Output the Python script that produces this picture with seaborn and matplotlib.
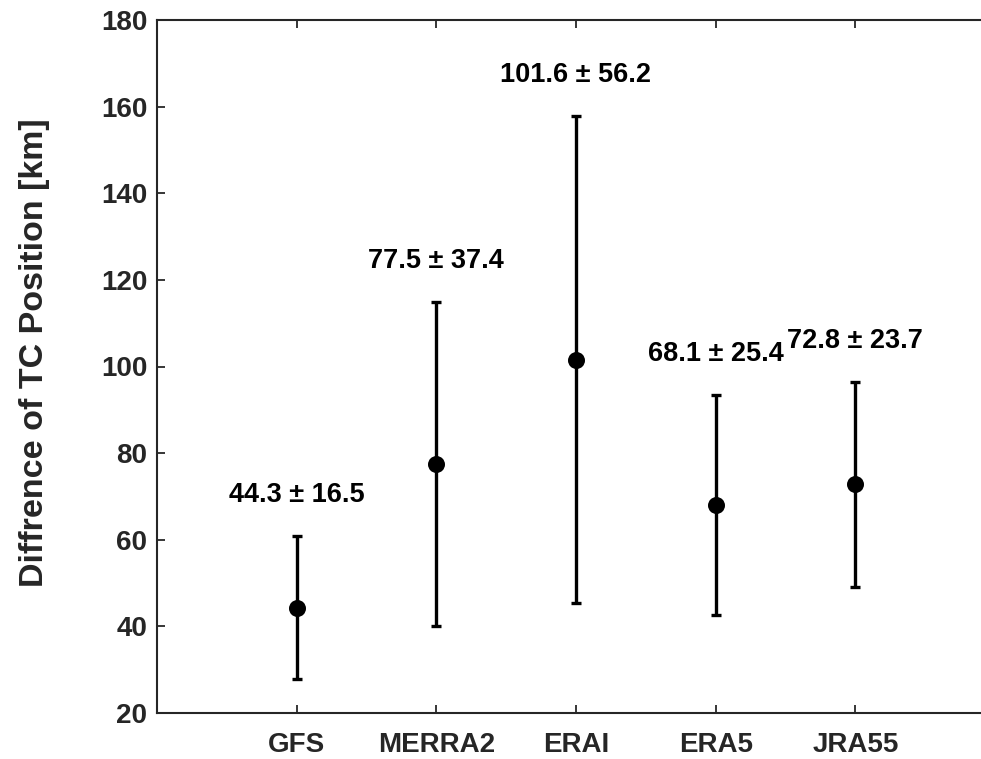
import matplotlib
matplotlib.use("Agg")
import matplotlib.pyplot as plt
import seaborn as sns
import pandas as pd
import numpy as np

categories = ["GFS", "MERRA2", "ERAI", "ERA5", "JRA55"]
means = [44.3, 77.5, 101.6, 68.1, 72.8]
stds = [16.5, 37.4, 56.2, 25.4, 23.7]
yticks = [20, 40, 60, 80, 100, 120, 140, 160, 180]

sns.set_theme(style="ticks")
plt.rcParams["font.family"] = ["Liberation Sans", "DejaVu Sans"]
plt.rcParams["font.weight"] = "bold"

df = pd.DataFrame({"cat": categories, "mean": means, "std": stds})
df["pos"] = np.arange(1, len(categories) + 1)

fig = plt.figure(figsize=(9.81, 7.59), dpi=100)
ax = fig.add_axes([157 / 981, 1 - 713 / 759, 838 / 981, 693 / 759])

ax.errorbar(df["pos"], df["mean"], yerr=df["std"], fmt="none", ecolor="black",
            elinewidth=2.4, capsize=3.8, capthick=2.4, zorder=2)
sns.scatterplot(data=df, x="pos", y="mean", color="black", s=150, edgecolor="black",
                linewidth=0, ax=ax, zorder=3, legend=False)

for p, m, s in zip(df["pos"], df["mean"], df["std"]):
    ax.text(p, m + s + 9.5, f"{m:.1f} \u00b1 {s:.1f}", ha="center", va="center",
            fontsize=19.5, fontweight="bold", color="black")

ax.set_xlim(0, 6)
ax.set_ylim(20, 180)
ax.set_xticks(df["pos"])
ax.set_xticklabels(categories)
ax.set_yticks(yticks)
ax.set_xlabel("")
ax.set_ylabel("Diffrence of TC Position [km]", fontsize=24.5, fontweight="bold",
              color="#262626")
ax.yaxis.set_label_coords(-0.128, 0.52)

ax.tick_params(axis="both", direction="in", length=6, width=1.3, color="#262626",
               labelsize=20, labelcolor="#262626", top=True, right=False)
ax.tick_params(axis="y", pad=7)
ax.tick_params(axis="x", pad=14)
for lab in ax.get_xticklabels() + ax.get_yticklabels():
    lab.set_fontweight("bold")
for name, sp in ax.spines.items():
    sp.set_visible(name != "right")
    sp.set_linewidth(1.5)
    sp.set_color("#262626")

fig.savefig("out.png", dpi=100)
